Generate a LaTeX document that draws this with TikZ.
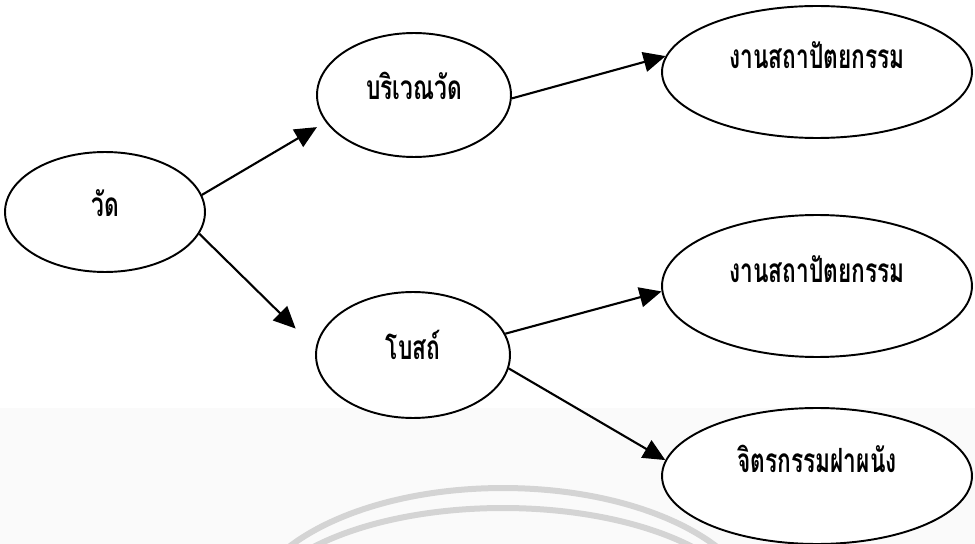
\documentclass[tikz,border=0pt]{standalone}
\usepackage{fontspec}
\usepackage{xcolor}
\usetikzlibrary{shapes.geometric, arrows.meta}
\newfontfamily\thaifont[Script=Thai, FakeStretch=0.68]{Loma}

\tikzset{
    bubble/.style={ellipse, draw=black, line width=1.1pt, fill=white, inner sep=0pt,
        font=\thaifont\bfseries\fontsize{19}{22}\selectfont},
    lefttext/.style={text height=0.4cm, text depth=0.2cm},
    righttext/.style={text height=0.3cm, text depth=0.45cm},
    link/.style={-{Triangle[length=0.44cm, width=0.4cm]}, line width=1.2pt},
}

\begin{document}
\begin{tikzpicture}[x=0.02cm, y=-0.02cm]
    \useasboundingbox (0,0) rectangle (975,544);
    \colorlet{paper}{black!2}
    \colorlet{stamp}{black!17}
    \fill[paper] (0,408) rectangle (975,544);
    \begin{scope}
        \clip (0,0) rectangle (975,544);
        \draw[stamp, line width=0.12cm] (503,620) ellipse [x radius=5.14cm, y radius=2.64cm];
        \draw[stamp, line width=0.12cm] (503,620) ellipse [x radius=5.0cm, y radius=2.24cm];
    \end{scope}

    \node[bubble, lefttext, minimum width=4cm, minimum height=2.4cm] (wat) at (105,212) {วัด};
    \node[bubble, lefttext, minimum width=3.88cm, minimum height=2.48cm] (boriwen) at (414,95) {บริเวณวัด};
    \node[bubble, lefttext, minimum width=3.88cm, minimum height=2.52cm] (bot) at (413,355) {โบสถ์};
    \node[bubble, righttext, minimum width=6.2cm, minimum height=2.64cm] (archA) at (817,72) {งานสถาปัตยกรรม};
    \node[bubble, righttext, minimum width=6.2cm, minimum height=2.84cm] (archB) at (817,286) {งานสถาปัตยกรรม};
    \node[bubble, righttext, minimum width=6.2cm, minimum height=2.72cm] (mural) at (817,476) {จิตรกรรมฝาผนัง};

    \draw[link, shorten >=0.2cm] (wat.10) -- (boriwen.197);
    \draw[link, shorten >=0.56cm] (wat.-13) -- (bot.176);
    \draw[link] (boriwen.-2) -- (archA.174);
    \draw[link] (bot.13) -- (archB.182);
    \draw[link] (bot.-8) -- (mural.174);
\end{tikzpicture}
\end{document}
